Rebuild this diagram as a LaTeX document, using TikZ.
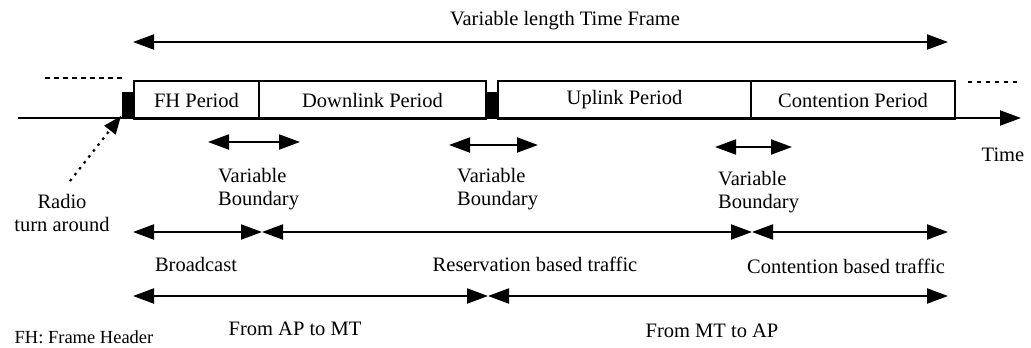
\documentclass[tikz,border=0pt]{standalone}
\usepackage{fontspec}
\setmainfont{Liberation Serif}
\usetikzlibrary{arrows.meta}
\begin{document}
\begin{tikzpicture}[x=1pt,y=-1pt,
  txt/.style={inner sep=0pt, font=\fontsize{20.5}{23}\selectfont},
  small/.style={inner sep=0pt, font=\fontsize{18.5}{22}\selectfont},
  period/.style={draw, line width=2.4pt, inner sep=0pt, minimum height=38pt,
                 font=\fontsize{20.5}{23}\selectfont},
  block/.style={fill=black, draw=black, inner sep=0pt, minimum height=26pt},
  tip/.style={-{Triangle[length=21pt,width=15pt]}},
  dtip/.style={{Triangle[length=21pt,width=15pt]}-{Triangle[length=21pt,width=15pt]}},
  span/.style={dtip, line width=2pt}]
\useasboundingbox (0,0) rectangle (1031,348);

% frame title
\node[txt] (title) at (565,21) {Variable length Time Frame};
\coordinate (f0) at (133,42);
\coordinate (f1) at (948,42);
\draw[span] (f0) -- (f1);

% time axis
\coordinate (t0) at (18,118);
\coordinate (t1) at (1021,118);
\draw[tip, line width=2pt] (t0) -- (t1);
\node[txt] (time) at (1003,155) {Time};

% neighbouring frames
\coordinate (pl0) at (45,78);
\coordinate (pl1) at (124,78);
\draw[line width=2pt, dash pattern=on 5pt off 4pt] (pl0) -- (pl1);
\coordinate (nr0) at (968,82);
\coordinate (nr1) at (1018,82);
\draw[line width=2pt, dash pattern=on 4pt off 5pt] (nr0) -- (nr1);

% periods of the frame
\node[period, minimum width=125pt] (fh) at (196.5,100) {FH Period};
\node[period, minimum width=227pt] (down) at (372.5,100) {Downlink Period};
\node[period, minimum width=253pt] (up) at (624.5,100) {Uplink Period};
\node[period, minimum width=204pt] (cont) at (853,100) {Contention Period};

% radio turn-around gaps
\node[block, minimum width=12pt] (rta) at (128.5,105) {};
\node[block, minimum width=11pt] (rtb) at (492,105) {};

% radio turn around label
\node[txt, align=center] (radio) at (62,213) {Radio\\turn around};
\coordinate (rtip) at (121,116);
\coordinate (rtail) at (70,181);
\draw[line width=2.2pt, dash pattern=on 2.5pt off 5pt,
      -{Triangle[length=18pt,width=14pt]}] (rtail) -- (rtip);

% variable boundaries
\coordinate (v1a) at (208,142);
\coordinate (v1b) at (300,142);
\draw[span] (v1a) -- (v1b);
\node[txt, align=left, anchor=west] (vb1) at (218,189) {Variable\\Boundary};

\coordinate (v2a) at (449,145);
\coordinate (v2b) at (538,145);
\draw[span] (v2a) -- (v2b);
\node[txt, align=left, anchor=west] (vb2) at (457,189) {Variable\\Boundary};

\coordinate (v3a) at (715,147);
\coordinate (v3b) at (792,147);
\draw[span] (v3a) -- (v3b);
\node[txt, align=left, anchor=west] (vb3) at (718,192) {Variable\\Boundary};

% traffic classes
\coordinate (r0) at (133,232);
\coordinate (r1) at (262,232);
\coordinate (r2) at (752,232);
\coordinate (r3) at (948,232);
\draw[span] (r0) -- (r1);
\draw[span] (r1) -- (r2);
\draw[span] (r2) -- (r3);
\node[txt] (bc) at (196,264) {Broadcast};
\node[txt] (res) at (535,264) {Reservation based traffic};
\node[txt] (con) at (846,266) {Contention based traffic};

% directions
\coordinate (d0) at (133,296);
\coordinate (d1) at (488,296);
\coordinate (d2) at (948,296);
\draw[span] (d0) -- (d1);
\draw[span] (d1) -- (d2);
\node[txt] (apmt) at (295,329) {From AP to MT};
\node[txt] (mtap) at (712,331) {From MT to AP};

\node[small] (fhnote) at (84,337) {FH: Frame Header};
\end{tikzpicture}
\end{document}
